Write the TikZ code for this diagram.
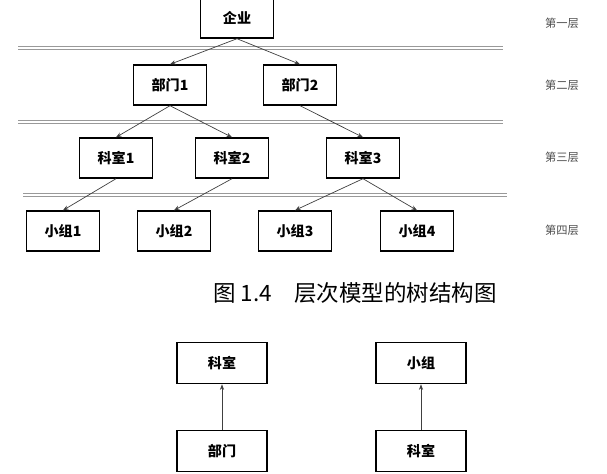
\documentclass[tikz,border=0pt]{standalone}
\usepackage{fontspec}
\setmainfont{Noto Sans CJK SC}
\usetikzlibrary{arrows.meta}
\tikzset{
  box/.style={draw=black,line width=1pt,minimum width=1.83cm,minimum height=1cm,font=\bfseries\fontsize{10}{12}\selectfont},
  bigbox/.style={box,minimum width=2.25cm,minimum height=1.03cm},
  link/.style={-{Stealth[length=4pt,width=3pt]},draw=black!75,line width=0.5pt},
  layer/.style={font=\fontsize{8}{10}\selectfont,text=black!70},
  sep/.style={double=white,draw=black!40,line width=0.5pt,double distance=1.2pt}
}
\begin{document}
\begin{tikzpicture}[x=0.025cm,y=-0.025cm]
\useasboundingbox (0,0) rectangle (607,474);
%separators
\draw[sep] (18,48) -- (503,48);
\draw[sep] (18,122) -- (503,122);
\draw[sep] (23,195) -- (507,195);
%layers
\node[layer] (l1) at (562,23) {第一层};
\node[layer] (l2) at (562,85) {第二层};
\node[layer] (l3) at (562,157) {第三层};
\node[layer] (l4) at (562,230) {第四层};
%tree
\node[box] (qy) at (237,18) {企业};
\node[box] (bm1) at (170,85) {部门1};
\node[box] (bm2) at (300,85) {部门2};
\node[box] (ks1) at (116,158) {科室1};
\node[box] (ks2) at (232,158) {科室2};
\node[box] (ks3) at (363,158) {科室3};
\node[box] (xz1) at (63,231) {小组1};
\node[box] (xz2) at (174,231) {小组2};
\node[box] (xz3) at (295,231) {小组3};
\node[box] (xz4) at (417,231) {小组4};
\draw[link] (qy.south) -- (bm1.north);
\draw[link] (qy.south) -- (bm2.north);
\draw[link] (bm1.south) -- (ks1.north);
\draw[link] (bm1.south) -- (ks2.north);
\draw[link] (bm2.south) -- (ks3.north);
\draw[link] (ks1.south) -- (xz1.north);
\draw[link] (ks2.south) -- (xz2.north);
\draw[link] (ks3.south) -- (xz3.north);
\draw[link] (ks3.south) -- (xz4.north);
%caption
\node[font=\fontsize{16}{19}\selectfont] (cap) at (355,293) {图 1.4\quad 层次模型的树结构图};
%pairs
\node[bigbox] (ksa) at (222,363) {科室};
\node[bigbox] (bma) at (222,451) {部门};
\node[bigbox] (xzb) at (421,363) {小组};
\node[bigbox] (ksb) at (421,451) {科室};
\draw[link] (bma) -- (ksa);
\draw[link] (ksb) -- (xzb);
\end{tikzpicture}
\end{document}
